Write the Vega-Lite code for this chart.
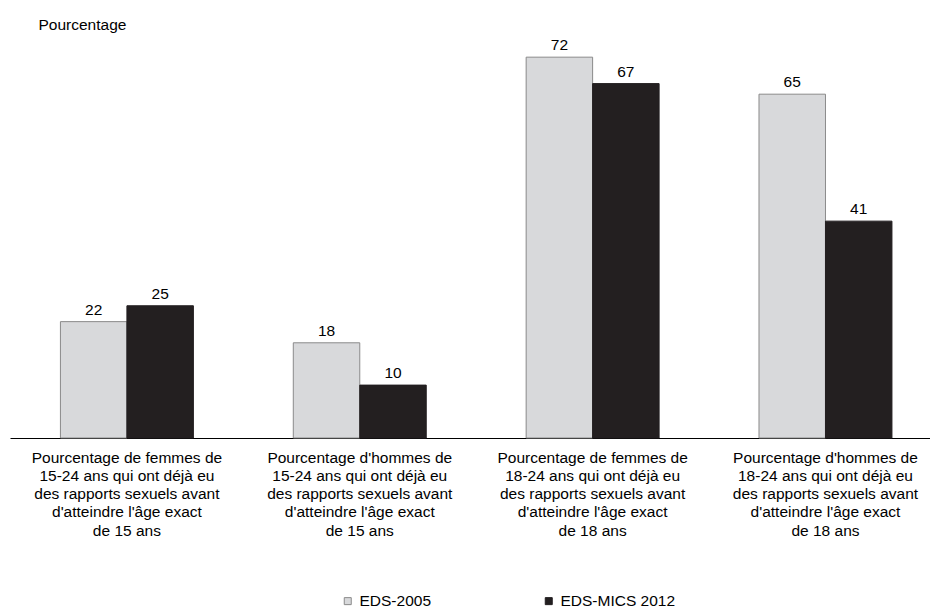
{
  "$schema": "https://vega.github.io/schema/vega-lite/v6.json",
  "width": 920,
  "height": 402,
  "autosize": {"type": "none"},
  "padding": {"left": 10, "top": 36, "right": 0, "bottom": 170},
  "config": {"view": {"stroke": null}, "font": "Liberation Sans"},
  "data": {
    "values": [
      {"cat": "Pourcentage de femmes de|15-24 ans qui ont déjà eu|des rapports sexuels avant|d'atteindre l'âge exact|de 15 ans", "serie": "EDS-2005", "value": 22},
      {"cat": "Pourcentage de femmes de|15-24 ans qui ont déjà eu|des rapports sexuels avant|d'atteindre l'âge exact|de 15 ans", "serie": "EDS-MICS 2012", "value": 25},
      {"cat": "Pourcentage d'hommes de|15-24 ans qui ont déjà eu|des rapports sexuels avant|d'atteindre l'âge exact|de 15 ans", "serie": "EDS-2005", "value": 18},
      {"cat": "Pourcentage d'hommes de|15-24 ans qui ont déjà eu|des rapports sexuels avant|d'atteindre l'âge exact|de 15 ans", "serie": "EDS-MICS 2012", "value": 10},
      {"cat": "Pourcentage de femmes de|18-24 ans qui ont déjà eu|des rapports sexuels avant|d'atteindre l'âge exact|de 18 ans", "serie": "EDS-2005", "value": 72},
      {"cat": "Pourcentage de femmes de|18-24 ans qui ont déjà eu|des rapports sexuels avant|d'atteindre l'âge exact|de 18 ans", "serie": "EDS-MICS 2012", "value": 67},
      {"cat": "Pourcentage d'hommes de|18-24 ans qui ont déjà eu|des rapports sexuels avant|d'atteindre l'âge exact|de 18 ans", "serie": "EDS-2005", "value": 65},
      {"cat": "Pourcentage d'hommes de|18-24 ans qui ont déjà eu|des rapports sexuels avant|d'atteindre l'âge exact|de 18 ans", "serie": "EDS-MICS 2012", "value": 41}
    ]
  },
  "encoding": {
    "x": {
      "field": "cat",
      "type": "nominal",
      "sort": null,
      "scale": {"paddingInner": 0.429, "paddingOuter": 0.19, "align": 0.57},
      "axis": {
        "title": null,
        "domainColor": "#000000",
        "domainWidth": 1,
        "ticks": false,
        "labelAngle": 0,
        "labelExpr": "split(datum.value, '|')",
        "labelFontSize": 15.5,
        "labelLineHeight": 18.3,
        "labelPadding": 12,
        "labelLimit": 400,
        "labelColor": "#000000",
        "labelBaseline": "top"
      }
    },
    "xOffset": {
      "field": "serie",
      "type": "nominal",
      "sort": ["EDS-2005", "EDS-MICS 2012"],
      "scale": {"paddingInner": 0, "paddingOuter": 0}
    },
    "y": {
      "field": "value",
      "type": "quantitative",
      "scale": {"domain": [0, 76]},
      "axis": {
        "title": "Pourcentage",
        "domain": false,
        "ticks": false,
        "labels": false,
        "grid": false,
        "titleAngle": 0,
        "titleAlign": "left",
        "titleBaseline": "alphabetic",
        "titleX": 28,
        "titleY": -6.5,
        "titleFontWeight": "normal",
        "titleFontSize": 15.5,
        "titleColor": "#000000"
      }
    }
  },
  "layer": [
    {
      "mark": {"type": "bar", "strokeWidth": 1},
      "encoding": {
        "fill": {
          "field": "serie",
          "type": "nominal",
          "scale": {"domain": ["EDS-2005", "EDS-MICS 2012"], "range": ["#d8d9db", "#231f20"]},
          "legend": {
            "title": null,
            "orient": "none",
            "direction": "horizontal",
            "legendX": 330,
            "legendY": 557,
            "padding": 0,
            "symbolType": "square",
            "symbolSize": 49,
            "symbolStrokeWidth": 1,
            "labelFontSize": 15.5,
            "labelColor": "#000000",
            "labelOffset": 4,
            "columnPadding": 109
          }
        },
        "stroke": {
          "field": "serie",
          "type": "nominal",
          "scale": {"domain": ["EDS-2005", "EDS-MICS 2012"], "range": ["#8a8a8a", "#231f20"]},
          "legend": {
            "title": null,
            "orient": "none",
            "direction": "horizontal",
            "legendX": 330,
            "legendY": 557,
            "padding": 0,
            "symbolType": "square",
            "symbolSize": 49,
            "symbolStrokeWidth": 1,
            "labelFontSize": 15.5,
            "labelColor": "#000000",
            "labelOffset": 4,
            "columnPadding": 109
          }
        }
      }
    },
    {
      "mark": {"type": "text", "baseline": "alphabetic", "dy": -7, "fontSize": 15.5, "color": "#000000"},
      "encoding": {"text": {"field": "value", "type": "quantitative"}}
    }
  ]
}
